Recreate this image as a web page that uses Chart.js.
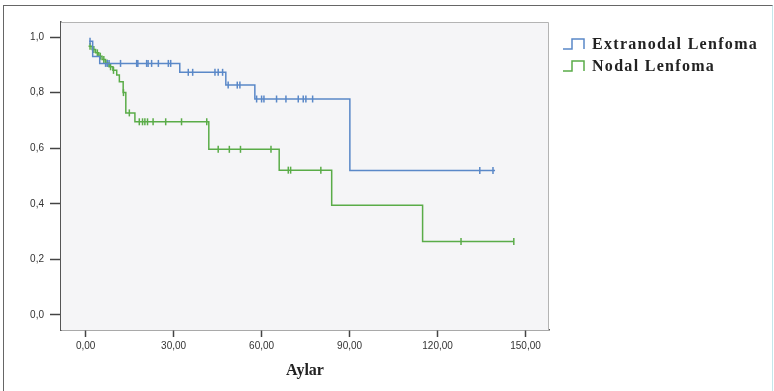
<!DOCTYPE html>
<html>
<head>
<meta charset="utf-8">
<script src="https://cdn.jsdelivr.net/npm/chart.js@4"></script>
<style>
  body { margin: 0; background: #fff; }
  #wrap { position: relative; width: 774px; height: 391px; }
  #frame { position: absolute; left: 3px; top: 5px; right: 1px; bottom: -2px;
    border-top: 1px solid #666; border-left: 1px solid #666; border-right: 1px solid #c4e6ea; }
  canvas { position: absolute; left: 0; top: 0; }
</style>
</head>
<body>
<div id="wrap">
  <div id="frame"></div>
  <canvas id="canvas" width="774" height="391"></canvas>
</div>
<script>
	// survival steps (months, cumulative survival)
	var extraTimes = [1.2, 2.4, 4.8, 32.1, 47.8, 57.7, 90.1, 139.6];
	var extraSurv = [0.985, 0.93, 0.905, 0.873, 0.827, 0.777, 0.52, 0.52];
	var extraCensor = [1.5, 6.8, 7.4, 8.0, 11.9, 17.4, 17.8, 20.8, 21.3, 22.5, 24.8, 28.2, 29.0,
		35.0, 36.5, 44.1, 45.2, 46.7, 48.6, 51.7, 52.6,
		58.3, 60.0, 60.8, 65.1, 68.3, 72.5, 74.2, 75.1, 77.4, 134.4, 138.9];

	var nodalTimes = [1.0, 2.2, 3.4, 4.5, 5.6, 6.8, 8.0, 9.3, 10.6, 11.5, 12.8, 13.7, 16.8, 42.0, 66.0, 83.9, 114.9, 146.0];
	var nodalSurv = [0.967, 0.955, 0.943, 0.931, 0.919, 0.906, 0.893, 0.88, 0.863, 0.839, 0.80, 0.727, 0.695, 0.596, 0.521, 0.395, 0.264, 0.264];
	var nodalCensor = [1.5, 2.8, 4.0, 5.0, 6.2, 7.4, 8.5, 9.5, 12.9, 14.9,
		18.3, 19.4, 20.2, 21.1, 23.0, 27.3, 32.7, 41.3,
		45.2, 49.0, 52.8, 63.2, 69.1, 69.9, 80.2, 128.0, 146.0];

	var xTicks = [0, 30, 60, 90, 120, 150];
	var yTicks = [0, 0.2, 0.4, 0.6, 0.8, 1.0];

	var blue = '#5a88c8';
	var green = '#5aac48';

	function steps(times, surv) {
		return times.map(function (t, i) { return {x: t, y: surv[i]}; });
	}
	// survival value at time t from the step curve
	function survAt(times, surv, t) {
		var v = surv[0];
		for (var i = 0; i < times.length; i++) {
			if (times[i] <= t) v = surv[i];
		}
		return v;
	}
	function censors(times, surv, cens) {
		return cens.map(function (t) { return {x: t, y: survAt(times, surv, t)}; });
	}

	var plotBox = {
		id: 'plotBox',
		beforeDatasetsDraw: function (chart) {
			var a = chart.chartArea, ctx = chart.ctx;
			ctx.save();
			ctx.fillStyle = '#f5f5f7';
			ctx.fillRect(a.left, a.top, a.right - a.left, a.bottom - a.top);
			ctx.strokeStyle = '#b4b4b4';
			ctx.lineWidth = 1;
			ctx.beginPath();
			ctx.moveTo(a.left, a.top + 0.5);
			ctx.lineTo(a.right - 0.5, a.top + 0.5);
			ctx.lineTo(a.right - 0.5, a.bottom);
			ctx.stroke();
			ctx.restore();
		}
	};

	// step-shaped legend on the right, like the SPSS output
	var stepLegend = {
		id: 'stepLegend',
		afterDraw: function (chart) {
			var ctx = chart.ctx;
			var x0 = chart.chartArea.right + 14, y0 = 44, gap = 22;
			var items = chart.data.datasets.filter(function (d) { return d.showLine !== false; });
			ctx.save();
			items.forEach(function (d, i) {
				var y = y0 + i * gap;
				ctx.strokeStyle = d.borderColor;
				ctx.lineWidth = 1.5;
				ctx.beginPath();
				ctx.moveTo(x0, y + 5);
				ctx.lineTo(x0 + 9, y + 5);
				ctx.lineTo(x0 + 9, y - 5);
				ctx.lineTo(x0 + 21, y - 5);
				ctx.lineTo(x0 + 21, y + 5);
				ctx.stroke();
				ctx.fillStyle = '#222';
				ctx.font = 'bold 16px "Liberation Serif", "Times New Roman", serif';
				ctx.letterSpacing = '1.3px';
				ctx.textBaseline = 'middle';
				ctx.fillText(d.label, x0 + 29, y + 1);
			});
			ctx.restore();
		}
	};

	window.onload = function () {
		var ctx = document.getElementById('canvas').getContext('2d');
		window.myChart = new Chart(ctx, {
			type: 'line',
			data: {
				datasets: [{
					label: 'Extranodal Lenfoma',
					data: steps(extraTimes, extraSurv),
					borderColor: blue,
					borderWidth: 1.5,
					stepped: 'before',
					pointRadius: 0,
					fill: false
				}, {
					label: 'Nodal Lenfoma',
					data: steps(nodalTimes, nodalSurv),
					borderColor: green,
					borderWidth: 1.5,
					stepped: 'before',
					pointRadius: 0,
					fill: false
				}, {
					label: 'Extranodal censored',
					data: censors(extraTimes, extraSurv, extraCensor),
					showLine: false,
					borderColor: blue,
					pointStyle: 'line',
					rotation: 90,
					pointRadius: 3.5,
					pointBorderWidth: 1.5
				}, {
					label: 'Nodal censored',
					data: censors(nodalTimes, nodalSurv, nodalCensor),
					showLine: false,
					borderColor: green,
					pointStyle: 'line',
					rotation: 90,
					pointRadius: 3.5,
					pointBorderWidth: 1.5
				}]
			},
			options: {
				responsive: false,
				animation: false,
				layout: { padding: { top: 22, right: 225, left: 0, bottom: 0 } },
				plugins: {
					legend: { display: false },
					tooltip: { enabled: false }
				},
				scales: {
					x: {
						type: 'linear',
						min: -8.4,
						max: 158,
						afterBuildTicks: function (s) { s.ticks = xTicks.map(function (v) { return {value: v}; }); },
						afterFit: function (s) { s.height = 61; s.paddingLeft = 0; s.paddingRight = 0; },
						grid: { drawOnChartArea: false, tickLength: 7, color: '#444', tickWidth: 1.5 },
						border: { color: '#555', width: 1.5 },
						ticks: {
							padding: 3,
							color: '#333',
							font: { family: '"Liberation Sans", Arial, sans-serif', size: 10 },
							callback: function (v) { return v.toFixed(2).replace('.', ','); }
						},
						title: {
							display: true,
							text: 'Aylar',
							color: '#222',
							font: { family: '"Liberation Serif", "Times New Roman", serif', size: 16, weight: 'bold' },
							padding: { top: 0, bottom: 11 }
						}
					},
					y: {
						min: -0.054,
						max: 1.054,
						afterBuildTicks: function (s) { s.ticks = yTicks.map(function (v) { return {value: v}; }); },
						afterFit: function (s) { s.width = 61; s.paddingTop = 0; s.paddingBottom = 0; },
						grid: { drawOnChartArea: false, tickLength: 11, color: '#444', tickWidth: 1.5 },
						border: { color: '#555', width: 1.5 },
						ticks: {
							padding: 6,
							color: '#333',
							font: { family: '"Liberation Sans", Arial, sans-serif', size: 10 },
							callback: function (v) { return v.toFixed(1).replace('.', ','); }
						}
					}
				}
			},
			plugins: [plotBox, stepLegend]
		});
	};
</script>
</body>
</html>
